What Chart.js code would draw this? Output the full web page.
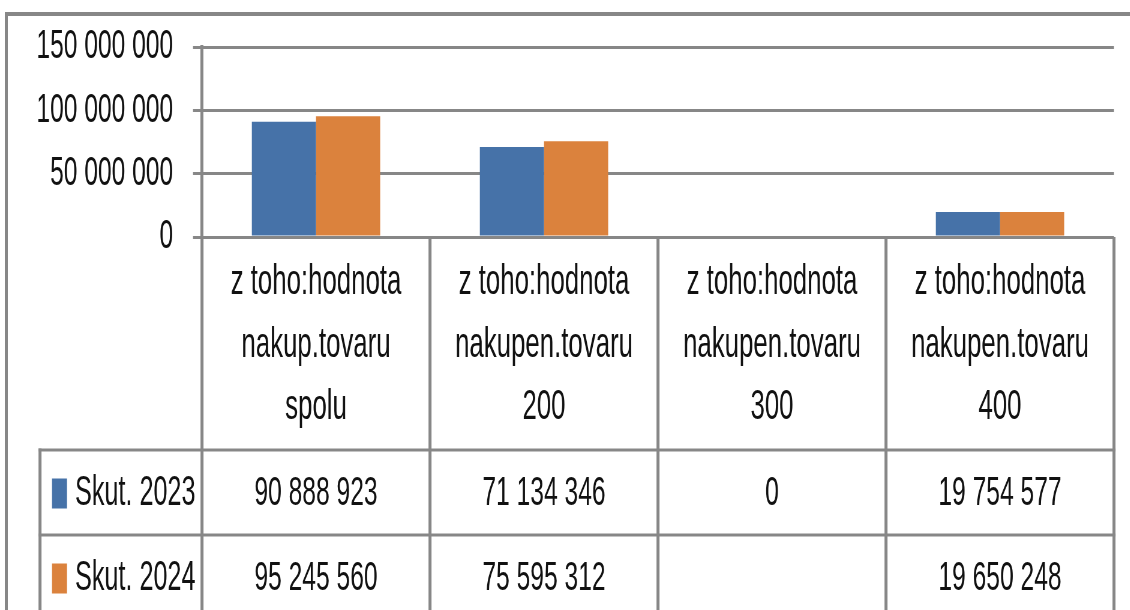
<!DOCTYPE html>
<html>
<head>
<meta charset="utf-8">
<script src="https://cdn.jsdelivr.net/npm/chart.js@4.4.1/dist/chart.umd.min.js"></script>
<style>
  html, body { margin: 0; padding: 0; background: #fff; width: 1130px; height: 610px; overflow: hidden; }
  #frame { position: absolute; left: 5px; top: 12px; width: 1300px; height: 800px;
           border-left: 3px solid #878787; border-top: 4px solid #878787; }
  #c { position: absolute; left: 0; top: 0; transform: scaleX(0.6); transform-origin: 0 0; }
</style>
</head>
<body>
<div id="frame"></div>
<canvas id="c" width="1884" height="610"></canvas>
<script>
// ---- data ----
const categories = [
  ['z toho:hodnota', 'nakup.tovaru', 'spolu'],
  ['z toho:hodnota', 'nakupen.tovaru', '200'],
  ['z toho:hodnota', 'nakupen.tovaru', '300'],
  ['z toho:hodnota', 'nakupen.tovaru', '400']
];
const seriesNames = ['Skut. 2023', 'Skut. 2024'];
const values2023 = [90888923, 71134346, 0, 19754577];
const values2024 = [95245560, 75595312, null, 19650248];
const yTicks = [0, 50000000, 100000000, 150000000];

const SX = 0.6; // horizontal compression of the picture
const LINE = '#878787';
const FONT = "'Liberation Sans', Arial, sans-serif";

function fmt(v) {
  if (v === null || v === undefined) return '';
  return String(Math.round(v)).replace(/\B(?=(\d{3})+(?!\d))/g, ' ');
}

const tablePlugin = {
  id: 'dataTable',
  afterDraw(chart, args, o) {
    const { ctx, chartArea, scales: { x } } = chart;
    const n = chart.data.labels.length;
    const half = (x.getPixelForValue(1) - x.getPixelForValue(0)) / 2;
    const bounds = [];
    for (let i = 0; i < n; i++) bounds.push(x.getPixelForValue(i) - half);
    bounds.push(x.getPixelForValue(n - 1) + half);
    const H = chart.height;
    const headTop = chartArea.bottom;
    const headBottom = x.bottom;
    const rowH = o.rowHeight;
    const left = o.left / SX;
    ctx.save();
    ctx.strokeStyle = LINE;
    // vertical lines
    ctx.lineWidth = 3 / SX;
    bounds.forEach(b => {
      ctx.beginPath(); ctx.moveTo(b, headTop); ctx.lineTo(b, H + 10); ctx.stroke();
    });
    ctx.beginPath(); ctx.moveTo(left, headBottom - 1.5); ctx.lineTo(left, H + 10); ctx.stroke();
    // horizontal lines
    ctx.lineWidth = 3;
    const ds = chart.data.datasets;
    for (let r = 0; r <= ds.length; r++) {
      const y = headBottom + r * rowH;
      ctx.beginPath(); ctx.moveTo(left - 1.5 / SX, y); ctx.lineTo(bounds[n] + 1.5 / SX, y); ctx.stroke();
    }
    // cells
    ctx.textBaseline = 'middle';
    ds.forEach((d, r) => {
      const cy = headBottom + r * rowH + rowH / 2 + 1;
      ctx.fillStyle = d.backgroundColor;
      ctx.fillRect(o.boxX / SX, cy - 15, 15 / SX, 30);
      ctx.fillStyle = '#111';
      ctx.font = '42px ' + FONT;
      ctx.textAlign = 'left';
      ctx.fillText(d.label, o.textX / SX, cy);
      ctx.font = '41px ' + FONT;
      ctx.textAlign = 'center';
      d.data.forEach((v, i) => {
        ctx.fillText(fmt(v), x.getPixelForValue(i), cy);
      });
    });
    ctx.restore();
  }
};

new Chart(document.getElementById('c'), {
  type: 'bar',
  data: {
    labels: categories,
    datasets: [
      { label: seriesNames[0], data: values2023, backgroundColor: '#4672A8' },
      { label: seriesNames[1], data: values2024, backgroundColor: '#DB823D' }
    ]
  },
  options: {
    responsive: false,
    animation: false,
    devicePixelRatio: 1,
    categoryPercentage: 0.563,
    barPercentage: 1.0,
    layout: { padding: { top: 47, left: 0, right: 1884 - 1114 / SX, bottom: 610 - 450 } },
    plugins: {
      legend: { display: false },
      tooltip: { enabled: false },
      dataTable: { rowHeight: 85, left: 40, boxX: 52, textX: 75 }
    },
    scales: {
      x: {
        grid: { display: false, drawTicks: false },
        border: { display: false },
        ticks: {
          color: '#111', padding: 14, maxRotation: 0, minRotation: 0, autoSkip: false,
          font: { family: FONT, size: 43, lineHeight: 62.5 / 43 }
        },
        afterFit(scale) { scale.height = 450 - 237; }
      },
      y: {
        min: 0, max: 150000000,
        afterBuildTicks(scale) { scale.ticks = yTicks.map(v => ({ value: v })); },
        grid: { color: LINE, lineWidth: 3, tickLength: 15, tickColor: LINE },
        border: { display: true, color: LINE, width: 3 / SX },
        ticks: {
          color: '#111', padding: 33,
          font: { family: FONT, size: 41 },
          callback: v => fmt(v)
        },
        afterFit(scale) { scale.width = 202 / SX; scale.paddingTop = 0; scale.paddingBottom = 0; }
      }
    }
  },
  plugins: [tablePlugin]
});
</script>
</body>
</html>
